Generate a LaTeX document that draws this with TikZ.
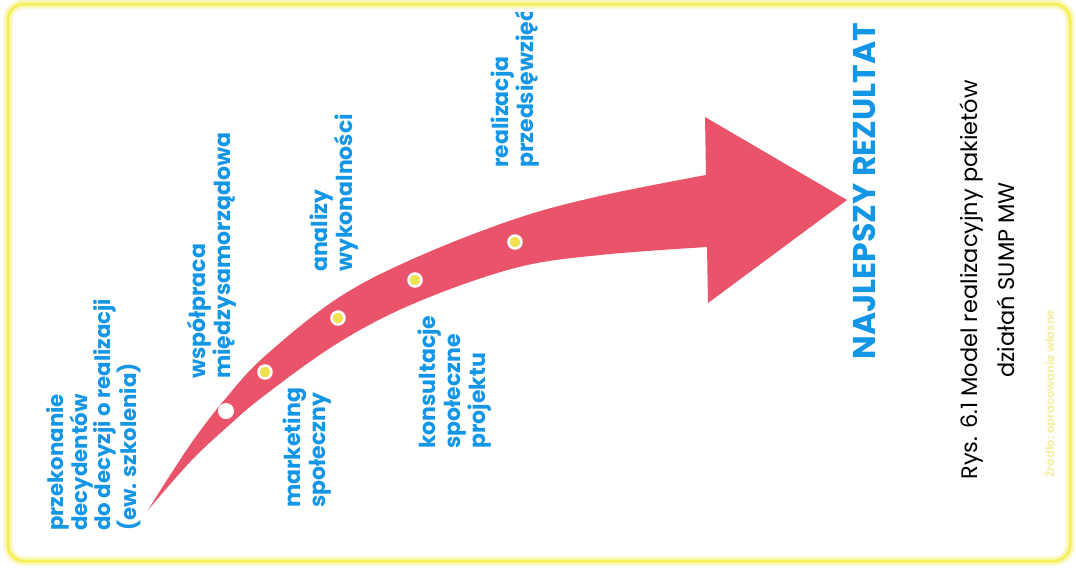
\documentclass[tikz,border=0pt]{standalone}
\usepackage{fontspec}
\setmainfont{Poppins}
\definecolor{arrowred}{RGB}{233,84,106}
\definecolor{lblblue}{RGB}{20,150,230}
\definecolor{frameyel}{RGB}{246,238,90}
\definecolor{dotyel}{RGB}{240,226,80}
\definecolor{srcyel}{RGB}{244,240,170}
\tikzset{
  lbl/.style={rotate=90, anchor=north west, align=left, inner sep=0pt, text=lblblue,
    font=\fontsize{22}{24.8}\selectfont\bfseries},
  dot/.style={circle, fill=dotyel, draw=white, line width=2.5pt, minimum size=13pt, inner sep=0pt},
  wdot/.style={circle, fill=white, minimum size=16pt, inner sep=0pt}
}
\begin{document}
\begin{tikzpicture}[x=1pt,y=-1pt]
\useasboundingbox (0,0) rectangle (1076,584);
\fill[white] (0,0) rectangle (1076,584);
% frame
\draw[frameyel!40, line width=9pt, rounded corners=16pt] (8,4) rectangle (1070,561);
\draw[frameyel, line width=3pt, rounded corners=16pt] (8,4) rectangle (1070,561);
% arrow
\fill[arrowred] plot[smooth, tension=0.6] coordinates {(148,510) (190,445) (226,398) (265,356) (338,298) (415,258) (515,219) (600,196) (706,175)}
  -- (705,117) -- (847,200) -- (708,303) -- (707,247)
  -- plot[smooth, tension=0.6] coordinates {(707,247) (600,255) (515,268) (415,303) (338,343) (265,395) (226,428) (190,462) (148,510)} -- cycle;
\node[wdot] (d0) at (226,411) {};
\node[dot] (d1) at (265,372) {};
\node[dot] (d2) at (338,318) {};
\node[dot] (d3) at (415,280) {};
\node[dot] (d4) at (515,242) {};
% labels
\node[lbl, font=\fontsize{21.3}{23}\selectfont\bfseries] (l1) at (46,531) {przekonanie\\decydentów\\do decyzji o realizacji\\(ew. szkolenia)};
\node[lbl] (l2) at (187,379) {współpraca\\międzysamorządowa};
\node[lbl] (l3) at (283,508) {marketing\\społeczny};
\node[lbl] (l4) at (310,272) {analizy\\wykonalności};
\node[lbl] (l5) at (418,449) {konsultacje\\społeczne\\projektu};
\begin{scope}
\clip (0,12) rectangle (1076,584);
\node[lbl] (l6) at (491,168) {realizacja\\przedsięwzięć};
\end{scope}
\node[rotate=90, inner sep=0pt, text=lblblue, font=\fontsize{31.5}{36}\selectfont\bfseries] (res) at (864,191) {NAJLEPSZY REZULTAT};
\node[rotate=90, inner sep=0pt, align=center, font=\fontsize{22.5}{37}\selectfont] (cap) at (987,280) {Rys. 6.1 Model realizacyjny pakietów\\działań SUMP MW};
\node[rotate=90, inner sep=0pt, text=srcyel, font=\fontsize{11.5}{14}\selectfont\bfseries] (src) at (1050,394) {Źródło: opracowanie własne};
\end{tikzpicture}
\end{document}
